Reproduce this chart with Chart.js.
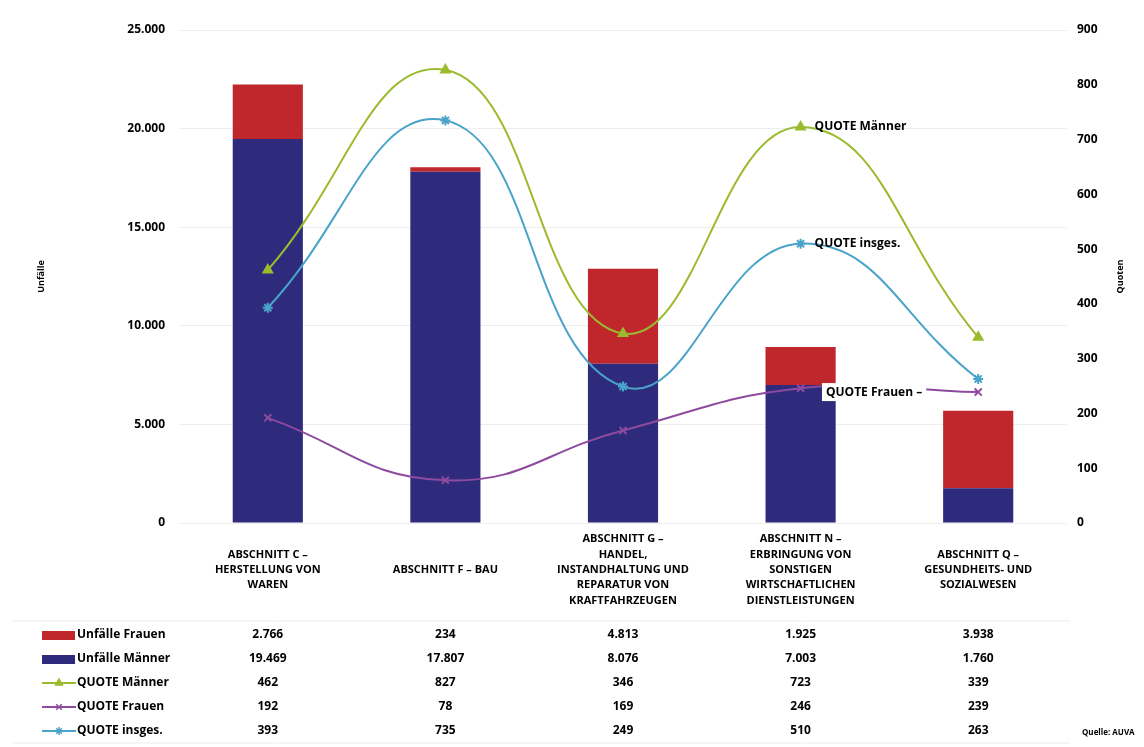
<!DOCTYPE html>
<html lang="de">
<head>
<meta charset="utf-8">
<title>Unfälle und Quoten nach Abschnitt</title>
<script src="https://cdn.jsdelivr.net/npm/chart.js@4.4.1/dist/chart.umd.min.js"></script>
<style>
  html, body { margin: 0; padding: 0; background: #ffffff; }
  #wrap { width: 1144px; height: 747px; }
</style>
</head>
<body>
<div id="wrap"><canvas id="myChart" width="1144" height="747"></canvas></div>
<script>
// Kategorien (Abschnitte)
var kategorien = [
    ['ABSCHNITT C –', 'HERSTELLUNG VON', 'WAREN'],
    'ABSCHNITT F – BAU',
    ['ABSCHNITT G –', 'HANDEL,', 'INSTANDHALTUNG UND', 'REPARATUR VON', 'KRAFTFAHRZEUGEN'],
    ['ABSCHNITT N –', 'ERBRINGUNG VON', 'SONSTIGEN', 'WIRTSCHAFTLICHEN', 'DIENSTLEISTUNGEN'],
    ['ABSCHNITT Q –', 'GESUNDHEITS- UND', 'SOZIALWESEN']
];

// Werte
var unfaelleFrauen = [2766, 234, 4813, 1925, 3938];
var unfaelleMaenner = [19469, 17807, 8076, 7003, 1760];
var quoteMaenner = [462, 827, 346, 723, 339];
var quoteFrauen = [192, 78, 169, 246, 239];
var quoteInsges = [393, 735, 249, 510, 263];

// Achsen
var ticksUnfaelle = [0, 5000, 10000, 15000, 20000, 25000];
var ticksQuoten = [0, 100, 200, 300, 400, 500, 600, 700, 800, 900];

var ROT = '#c0272d';
var BLAU = '#2e2b7c';
var GRUEN = '#9bbb2f';
var HELLBLAU = '#4aa3c8';
var LILA = '#8e4a9e';
var SCHRIFT = "'Open Sans', 'DejaVu Sans', sans-serif";

// deutsche Tausenderpunkte
function fmt(v) {
    return String(v).replace(/\B(?=(\d{3})+(?!\d))/g, '.');
}

document.addEventListener('DOMContentLoaded', (event) => {
    var ctx = document.getElementById('myChart').getContext('2d');

    // Zeilen der Datentabelle unter dem Diagramm
    var tabelle = [
        { label: 'Unfälle Frauen', art: 'box', farbe: ROT, werte: unfaelleFrauen },
        { label: 'Unfälle Männer', art: 'box', farbe: BLAU, werte: unfaelleMaenner },
        { label: 'QUOTE Männer', art: 'linie', farbe: GRUEN, punkt: 'triangle', werte: quoteMaenner },
        { label: 'QUOTE Frauen', art: 'linie', farbe: LILA, punkt: 'crossRot', werte: quoteFrauen },
        { label: 'QUOTE insges.', art: 'linie', farbe: HELLBLAU, punkt: 'star', werte: quoteInsges }
    ];

    // Serienbeschriftungen an den Linien + Tabelle + Titel rechts
    var extras = {
        id: 'extras',
        afterDatasetsDraw(chart) {
            var c = chart.ctx;
            c.save();
            c.font = 'bold 12px ' + SCHRIFT;
            c.fillStyle = '#000';
            c.textBaseline = 'middle';

            var pM = chart.getDatasetMeta(2).data[3];
            var pI = chart.getDatasetMeta(4).data[3];
            var pF = chart.getDatasetMeta(3).data[4];
            c.textAlign = 'left';
            c.fillText('QUOTE Männer', pM.x + 14, pM.y);
            c.fillText('QUOTE insges.', pI.x + 14, pI.y);

            var txt = 'QUOTE Frauen –';
            var w = c.measureText(txt).width;
            var xEnd = pF.x - 56;
            c.fillStyle = '#fff';
            c.fillRect(xEnd - w - 4, pF.y - 9, w + 8, 18);
            c.fillStyle = '#000';
            c.textAlign = 'right';
            c.fillText(txt, xEnd, pF.y);
            c.restore();
        },
        afterDraw(chart) {
            var c = chart.ctx;
            var xs = chart.scales.x;
            var top = chart.chartArea.bottom + 112;
            c.save();
            c.textBaseline = 'middle';

            // feine Tabellenlinien
            c.strokeStyle = 'rgba(0,0,0,0.07)';
            c.lineWidth = 1;
            c.beginPath();
            c.moveTo(12, top - 14);
            c.lineTo(1070, top - 14);
            c.moveTo(12, top + 4 * 24 + 12);
            c.lineTo(1070, top + 4 * 24 + 12);
            c.stroke();

            tabelle.forEach((zeile, i) => {
                var y = top + i * 24;
                if (zeile.art === 'box') {
                    c.fillStyle = zeile.farbe;
                    c.fillRect(42, y - 4, 33, 9);
                } else {
                    c.strokeStyle = zeile.farbe;
                    c.fillStyle = zeile.farbe;
                    c.lineWidth = 2;
                    c.beginPath();
                    c.moveTo(42, y);
                    c.lineTo(76, y);
                    c.stroke();
                    c.lineWidth = 1.5;
                    Chart.helpers.drawPoint(c, { pointStyle: zeile.punkt, radius: 4, rotation: 0, borderWidth: 1.5 }, 59, y);
                }
                c.fillStyle = '#000';
                c.font = 'bold 12px ' + SCHRIFT;
                c.textAlign = 'left';
                c.fillText(zeile.label, 77, y);
                c.textAlign = 'center';
                zeile.werte.forEach((v, j) => {
                    c.fillText(fmt(v), xs.getPixelForValue(j), y);
                });
            });

            c.font = 'bold 8px ' + SCHRIFT;
            c.textAlign = 'left';
            c.fillText('Quelle: AUVA', 1082, top + 4 * 24 + 2);

            // Achsentitel rechts (von unten nach oben gelesen)
            c.font = 'bold 9px ' + SCHRIFT;
            c.translate(1120, (chart.chartArea.top + chart.chartArea.bottom) / 2);
            c.rotate(-Math.PI / 2);
            c.textAlign = 'center';
            c.fillText('Quoten', 0, 0);
            c.restore();
        }
    };

    var data = {
        labels: kategorien,
        datasets: [
            {
                type: 'bar',
                label: 'Unfälle Männer',
                data: unfaelleMaenner,
                backgroundColor: BLAU,
                borderWidth: 0,
                yAxisID: 'y',
                order: 2
            },
            {
                type: 'bar',
                label: 'Unfälle Frauen',
                data: unfaelleFrauen,
                backgroundColor: ROT,
                borderWidth: 0,
                yAxisID: 'y',
                order: 2
            },
            {
                type: 'line',
                label: 'QUOTE Männer',
                data: quoteMaenner,
                borderColor: GRUEN,
                backgroundColor: GRUEN,
                borderWidth: 2,
                tension: 0.45,
                pointStyle: 'triangle',
                pointRadius: 5,
                yAxisID: 'y1',
                order: 1
            },
            {
                type: 'line',
                label: 'QUOTE Frauen',
                data: quoteFrauen,
                borderColor: LILA,
                backgroundColor: LILA,
                borderWidth: 2,
                tension: 0.45,
                pointStyle: 'crossRot',
                pointRadius: 5,
                pointBorderWidth: 2,
                yAxisID: 'y1',
                order: 1
            },
            {
                type: 'line',
                label: 'QUOTE insges.',
                data: quoteInsges,
                borderColor: HELLBLAU,
                backgroundColor: HELLBLAU,
                borderWidth: 2,
                tension: 0.45,
                pointStyle: 'star',
                pointRadius: 5,
                pointBorderWidth: 2,
                yAxisID: 'y1',
                order: 1
            }
        ]
    };

    var options = {
        responsive: false,
        animation: false,
        layout: { padding: { left: 32, right: 14, top: 30, bottom: 124 } },
        datasets: {
            bar: { categoryPercentage: 1, barPercentage: 0.395 }
        },
        plugins: {
            legend: { display: false },
            tooltip: { enabled: false }
        },
        scales: {
            x: {
                stacked: true,
                grid: { display: false },
                border: { display: false },
                ticks: {
                    color: '#000',
                    font: { family: SCHRIFT, size: 11, weight: 'bold', lineHeight: 1.4 },
                    maxRotation: 0,
                    autoSkip: false,
                    crossAlign: 'center',
                    padding: 8
                },
                afterFit: function (s) { s.height = 100; }
            },
            y: {
                stacked: true,
                position: 'left',
                min: 0,
                max: 25000,
                afterBuildTicks: function (s) { s.ticks = ticksUnfaelle.map(v => ({ value: v })); },
                ticks: {
                    color: '#000',
                    font: { family: SCHRIFT, size: 12, weight: 'bold' },
                    padding: 14,
                    callback: function (v) { return fmt(v); }
                },
                grid: { color: 'rgba(0,0,0,0.07)', drawTicks: false },
                border: { display: false },
                title: {
                    display: true,
                    text: 'Unfälle',
                    color: '#000',
                    font: { family: SCHRIFT, size: 9, weight: 'bold' }
                },
                afterFit: function (s) { s.width = 147; }
            },
            y1: {
                position: 'right',
                min: 0,
                max: 900,
                afterBuildTicks: function (s) { s.ticks = ticksQuoten.map(v => ({ value: v })); },
                ticks: {
                    color: '#000',
                    font: { family: SCHRIFT, size: 12, weight: 'bold' },
                    padding: 10
                },
                grid: { drawOnChartArea: false, drawTicks: false },
                border: { display: false },
                afterFit: function (s) { s.width = 63; }
            }
        }
    };

    var myChart = new Chart(ctx, {
        type: 'bar',
        data: data,
        options: options,
        plugins: [extras]
    });
});
</script>
</body>
</html>
